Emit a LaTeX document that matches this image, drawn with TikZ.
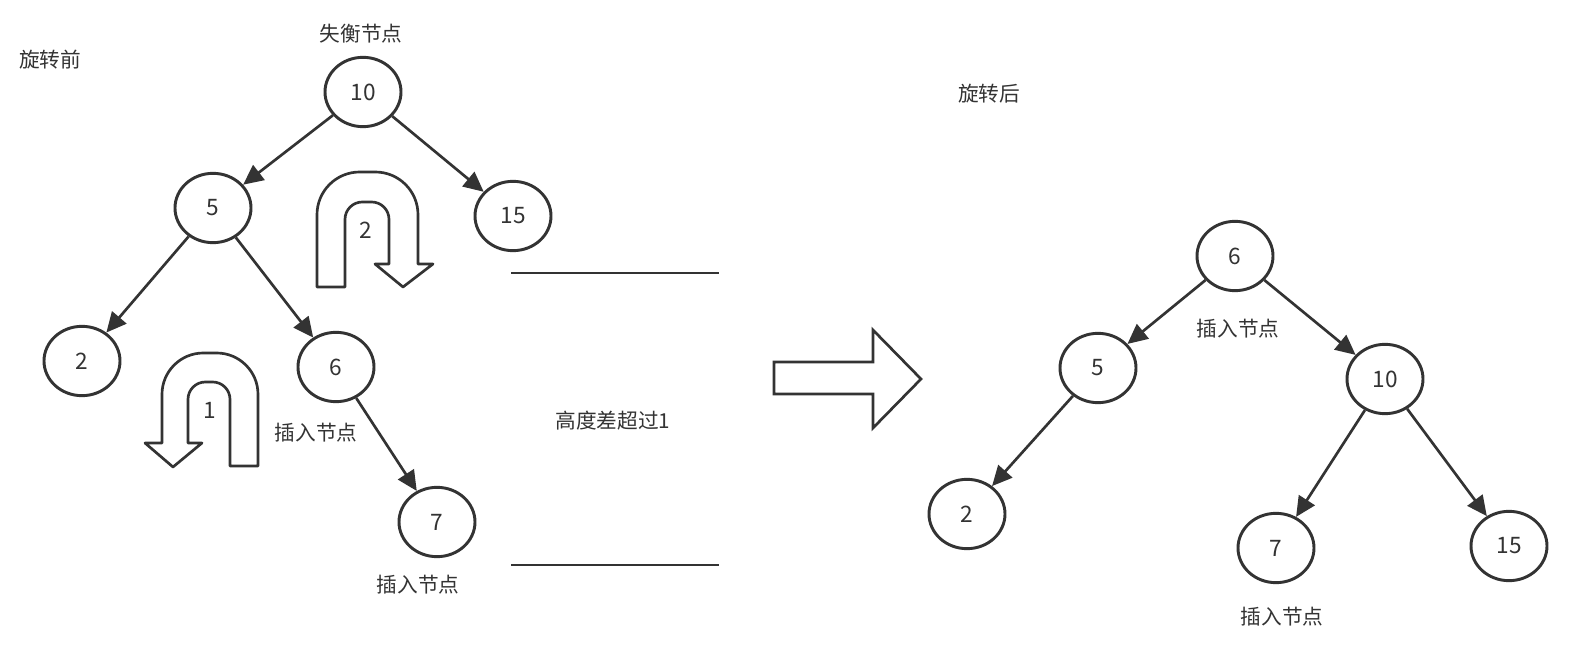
\documentclass[tikz,border=0pt]{standalone}
\usepackage{fontspec}
\setmainfont{Noto Sans CJK SC}
\usetikzlibrary{shapes.geometric,arrows.meta}
\definecolor{ink}{HTML}{333333}
\tikzset{
  tnode/.style={ellipse,draw=ink,line width=2.2pt,minimum width=57pt,minimum height=52pt,inner sep=0pt,font=\fontsize{17}{19}\selectfont,text=ink},
  edge/.style={draw=ink,line width=2pt,-{Triangle[length=15pt,width=14pt]},shorten >=0pt},
  lbl/.style={font=\fontsize{15.5}{18}\selectfont,text=ink,inner sep=0pt},
  bigshape/.style={draw=ink,line width=2pt,fill=white,line join=round},
  hline/.style={draw=ink,line width=2.2pt},
  num/.style={font=\fontsize{17}{19}\selectfont,text=ink,inner sep=0pt}
}
\begin{document}
\begin{tikzpicture}[x=0.75pt,y=-0.75pt]
\useasboundingbox[fill=white] (0,0) rectangle (1571,659);
% left tree
\node[tnode] (a10) at (363,92) {10};
\node[tnode] (a5) at (213,208) {5};
\node[tnode] (a15) at (513,216) {15};
\node[tnode] (a2) at (82,361) {2};
\node[tnode] (a6) at (336,367) {6};
\node[tnode] (a7) at (437,522) {7};
\draw[edge] (a10) -- (a5);
\draw[edge] (a10) -- (a15);
\draw[edge] (a5) -- (a2);
\draw[edge] (a5) -- (a6);
\draw[edge] (a6) -- (a7);
% right tree
\node[tnode] (b6) at (1235,256) {6};
\node[tnode] (b5) at (1098,368) {5};
\node[tnode] (b10) at (1385,379) {10};
\node[tnode] (b2) at (967,514) {2};
\node[tnode] (b7) at (1276,548) {7};
\node[tnode] (b15) at (1509,546) {15};
\draw[edge] (b6) -- (b5);
\draw[edge] (b6) -- (b10);
\draw[edge] (b5) -- (b2);
\draw[edge] (b10) -- (b7);
\draw[edge] (b10) -- (b15);
% labels
\node[lbl] (t1) at (50,60) {旋转前};
\node[lbl] (t2) at (361,34) {失衡节点};
\node[lbl] (t3) at (989,94) {旋转后};
\node[lbl] (t4) at (316,433) {插入节点};
\node[lbl] (t5) at (418,585) {插入节点};
\node[lbl] (t6) at (1238,329) {插入节点};
\node[lbl] (t7) at (1282,617) {插入节点};
\node[lbl] (t8) at (613,421) {高度差超过1};
% horizontal lines
\draw[hline] (511,273) -- (719,273);
\draw[hline] (511,565) -- (719,565);
% big arrow
\draw[bigshape,line join=miter] (774,362) -- (873,362) -- (873,330) -- (921,379) -- (873,428) -- (873,394) -- (774,394) -- cycle;
% U-turn arrow 2
\draw[bigshape] (317,287) [rounded corners=32pt] -- (317,172) -- (418,172) [sharp corners] -- (418,264) -- (433,264) -- (403,287) -- (375,264) -- (389,264) [rounded corners=13pt] -- (389,202) -- (345,202) [sharp corners] -- (345,287) -- cycle;
\node[num] (n2) at (366,230) {2};
% U-turn arrow 1
\draw[bigshape] (258,466) [rounded corners=31pt] -- (258,353) -- (162,353) [sharp corners] -- (162,443) -- (145,443) -- (173,467) -- (202,443) -- (188,443) [rounded corners=13pt] -- (188,382) -- (230,382) [sharp corners] -- (230,466) -- cycle;
\node[num] (n1) at (210,410) {1};
\end{tikzpicture}
\end{document}
